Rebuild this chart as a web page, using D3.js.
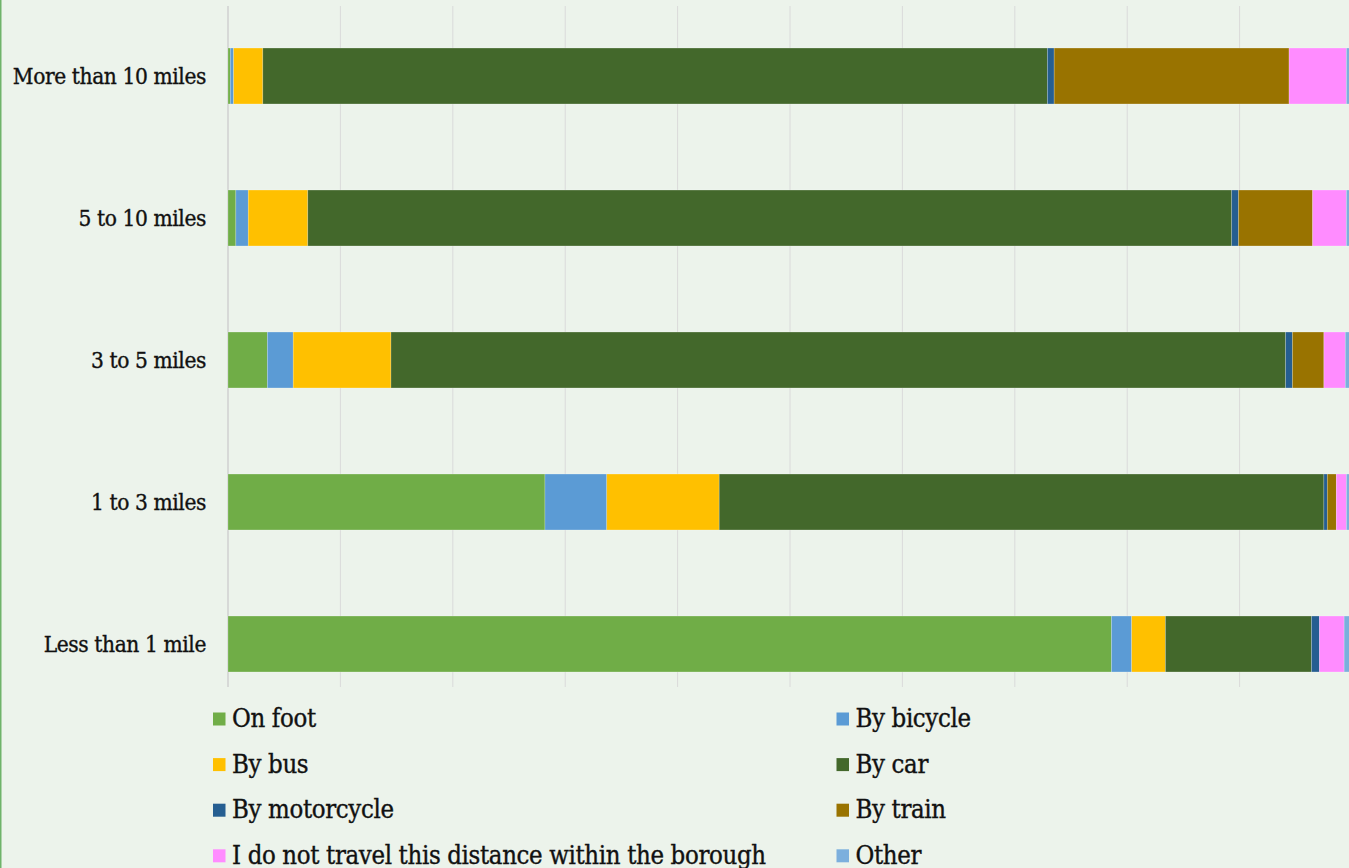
<!DOCTYPE html>
<html>
<head>
<meta charset="utf-8">
<script src="https://cdn.jsdelivr.net/npm/d3@7"></script>
<style>
  html, body { margin: 0; padding: 0; background: #ecf3eb; }
  svg { display: block; }
  text { font-family: "DejaVu Serif Condensed", "DejaVu Serif", serif; fill: #111; stroke: #111; stroke-width: 0.35; }
</style>
</head>
<body>
<svg id="chart" width="1349" height="868"></svg>
<script>
// Distance bands, top to bottom
const categories = ["More than 10 miles", "5 to 10 miles", "3 to 5 miles", "1 to 3 miles", "Less than 1 mile"];

// Share of respondents (%) for each mode, one value per distance band
const onFoot      = [0.2, 0.7, 3.5, 28.2, 78.6];
const byBicycle   = [0.3, 1.1, 2.3, 5.5, 1.8];
const byBus       = [2.6, 5.3, 8.7, 10.0, 3.0];
const byCar       = [69.8, 82.2, 79.6, 53.8, 13.0];
const byMotorcycle= [0.6, 0.6, 0.6, 0.3, 0.7];
const byTrain     = [20.9, 6.6, 2.8, 0.8, 0.0];
const doNotTravel = [5.1, 3.0, 1.9, 0.9, 2.2];
const other       = [0.6, 0.5, 0.6, 0.5, 0.7];

const seriesNames = ["On foot", "By bicycle", "By bus", "By car", "By motorcycle", "By train",
                     "I do not travel this distance within the borough", "Other"];
const seriesValues = [onFoot, byBicycle, byBus, byCar, byMotorcycle, byTrain, doNotTravel, other];
const seriesColors = ["#70ad47", "#5b9bd5", "#ffc000", "#43682b", "#255e91", "#997300", "#ff8cff", "#7cafdd"];

const xTicks = [0, 10, 20, 30, 40, 50, 60, 70, 80, 90, 100];

const svg = d3.select("#chart");

// left accent border
svg.append("rect").attr("x", 0).attr("y", 0).attr("width", 1.5).attr("height", 868).attr("fill", "#6fb36a");

const x = d3.scaleLinear().domain([0, 100]).range([228, 1352]);
const y = d3.scaleBand().domain(categories).range([5, 715]).paddingInner(0.606).paddingOuter(0.303);

// gridlines
const grid = svg.append("g");
grid.selectAll("line").data(xTicks).join("line")
  .attr("x1", d => x(d)).attr("x2", d => x(d))
  .attr("y1", 6).attr("y2", 687)
  .attr("stroke", d => d === 0 ? "#d2d2d2" : "#dadada")
  .attr("stroke-width", d => d === 0 ? 1.6 : 1);

// stacked data
const rows = categories.map((c, i) => {
  const r = { category: c };
  seriesNames.forEach((s, j) => { r[s] = seriesValues[j][i]; });
  return r;
});
const stack = d3.stack().keys(seriesNames)(rows);

svg.append("g").selectAll("g").data(stack).join("g")
  .attr("fill", (d, i) => seriesColors[i])
  .selectAll("rect").data(d => d).join("rect")
  .attr("x", d => x(d[0]))
  .attr("y", d => y(d.data.category))
  .attr("width", d => Math.max(0, x(d[1]) - x(d[0])))
  .attr("height", y.bandwidth())
  .attr("stroke", "rgba(255,255,255,0.35)")
  .attr("stroke-width", 0.6);

// category labels
svg.append("g").selectAll("text").data(categories).join("text")
  .attr("x", 206)
  .attr("y", d => y(d) + y.bandwidth() / 2 + 8)
  .attr("text-anchor", "end")
  .attr("font-size", 22.5)
  .attr("letter-spacing", -0.4)
  .text(d => d);

// legend: two columns, four rows
const legend = svg.append("g");
const items = legend.selectAll("g").data(seriesNames).join("g")
  .attr("transform", (d, i) => {
    const col = i % 2, row = Math.floor(i / 2);
    return `translate(${col === 0 ? 213 : 836.5},${712.5 + row * 45.6})`;
  });
items.append("rect").attr("width", 12.5).attr("height", 13)
  .attr("fill", (d, i) => seriesColors[i]);
items.append("text")
  .attr("x", 19).attr("y", 14.5)
  .attr("font-size", 25.5)
  .attr("letter-spacing", -0.35)
  .text(d => d);
</script>
</body>
</html>
